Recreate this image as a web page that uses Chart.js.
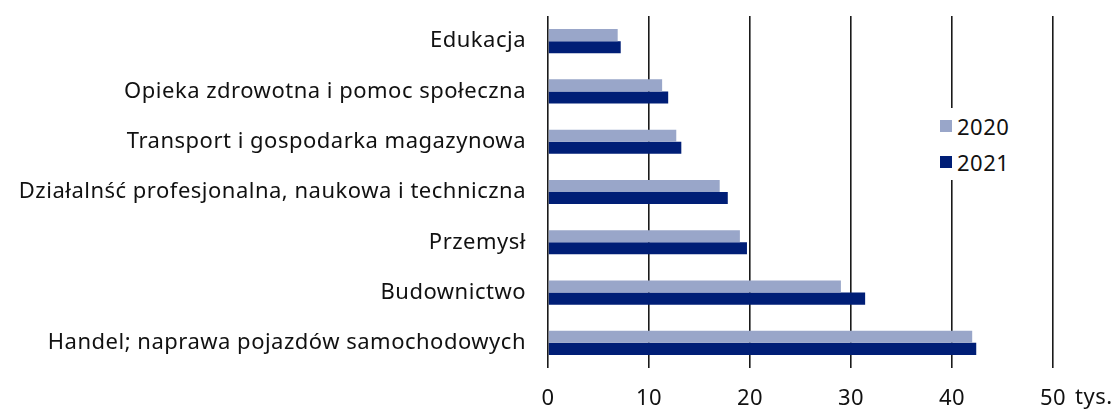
<!DOCTYPE html>
<html>
<head>
<meta charset="utf-8">
<script src="https://cdn.jsdelivr.net/npm/chart.js@4"></script>
<style>
  body { margin: 0; background: #fff; }
  #wrap { position: relative; width: 1116px; height: 409px; }
  #legend { position: absolute; left: 934px; top: 108px; width: 80px; background: #fff; padding: 0;
            font-family: "Noto Sans", sans-serif; font-size: 22px; color: #111; letter-spacing: 0.5px; }
  #legend div { display: flex; align-items: center; height: 36px; }
  #legend span.box { width: 12px; height: 12px; margin: 0 5px 0 6px; }
  #unit { position: absolute; left: 1075px; top: 380px; font-family: "Noto Sans", sans-serif; font-size: 22px; color: #111; letter-spacing: 0.5px; }
</style>
</head>
<body>
<div id="wrap">
  <canvas id="chart" width="1116" height="409"></canvas>
  <div id="legend"></div>
  <div id="unit">tys.</div>
</div>
<script>
const categories = [
  "Edukacja",
  "Opieka zdrowotna i pomoc społeczna",
  "Transport i gospodarka magazynowa",
  "Działalnść profesjonalna, naukowa i techniczna",
  "Przemysł",
  "Budownictwo",
  "Handel; naprawa pojazdów samochodowych"
];
const values2020 = [6.9, 11.3, 12.7, 17.0, 19.0, 29.0, 42.0];
const values2021 = [7.2, 11.9, 13.2, 17.8, 19.7, 31.4, 42.4];
const xTicks = [0, 10, 20, 30, 40, 50];

const colors = { "2020": "rgb(153,166,201)", "2021": "rgb(0,30,118)" };

const legend = document.getElementById("legend");
Object.keys(colors).forEach((k) => {
  const row = document.createElement("div");
  row.innerHTML = '<span class="box" style="background:' + colors[k] + '"></span>' + k;
  legend.appendChild(row);
});

Chart.defaults.font.family = "'Noto Sans', sans-serif";
Chart.defaults.font.size = 22;
Chart.defaults.color = "#111";

// slightly wider text, closer to the original typeface
const spacing = {
  id: "spacing",
  beforeInit: (chart) => { chart.ctx.letterSpacing = "0.5px"; },
  beforeDraw: (chart) => { chart.ctx.letterSpacing = "0.5px"; }
};

new Chart(document.getElementById("chart"), {
  type: "bar",
  data: {
    labels: categories,
    datasets: [
      { label: "2020", data: values2020, backgroundColor: colors["2020"], categoryPercentage: 0.48, barPercentage: 1 },
      { label: "2021", data: values2021, backgroundColor: colors["2021"], categoryPercentage: 0.48, barPercentage: 1 }
    ]
  },
  plugins: [spacing],
  options: {
    indexAxis: "y",
    responsive: false,
    animation: false,
    layout: { padding: { top: 16, right: 63, left: 0, bottom: 0 } },
    plugins: { legend: { display: false }, tooltip: { enabled: false } },
    scales: {
      x: {
        min: 0,
        max: 50,
        afterBuildTicks: (axis) => { axis.ticks = xTicks.map((v) => ({ value: v })); },
        grid: { color: "#1a1a1a", lineWidth: 1.6, drawTicks: false },
        border: { display: false },
        ticks: { padding: 18 },
        afterFit: (axis) => { axis.height = 41; axis.paddingLeft = 0; axis.paddingRight = 0; }
      },
      y: {
        grid: { display: false, drawTicks: false },
        border: { display: false },
        ticks: { padding: 22 },
        afterFit: (axis) => { axis.width = 548; axis.paddingTop = 0; axis.paddingBottom = 0; }
      }
    }
  }
});
</script>
</body>
</html>
